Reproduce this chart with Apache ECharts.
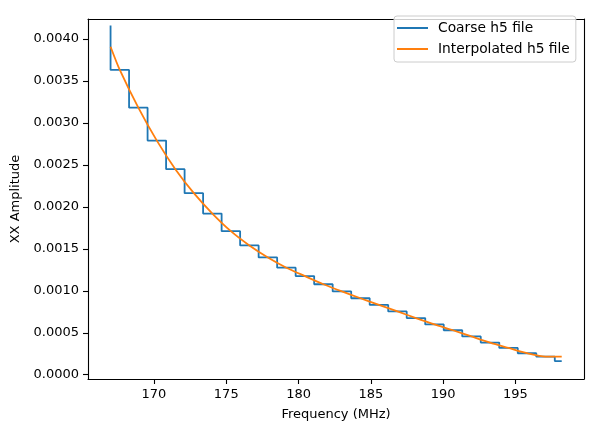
<!DOCTYPE html>
<html>
<head>
<meta charset="utf-8">
<script src="https://cdn.jsdelivr.net/npm/echarts@6/dist/echarts.min.js"></script>
<style>
  html, body { margin: 0; padding: 0; background: #fff; }
  #chart { width: 593px; height: 432px; }
</style>
</head>
<body>
<div id="chart"></div>
<script>
// Coarse h5 file: step line (vertical step at each x, then level until next x)
const coarseFreq = [167.00, 168.28, 169.56, 170.84, 172.12, 173.40, 174.68, 175.96, 177.24, 178.52,
                    179.80, 181.08, 182.36, 183.64, 184.92, 186.20, 187.48, 188.76, 190.04, 191.32,
                    192.60, 193.88, 195.16, 196.44, 197.72, 198.20];
const coarseAmp = [0.004160, 0.003631, 0.003182, 0.002789, 0.002449, 0.002163, 0.001920, 0.001710, 0.001540, 0.001397,
                   0.001275, 0.001175, 0.001078, 0.000992, 0.000911, 0.000831, 0.000754, 0.000675, 0.000599, 0.000530,
                   0.000456, 0.000383, 0.000319, 0.000256, 0.000215, 0.000162];

// Interpolated h5 file
const interpFreq = [167.00, 167.64, 168.92, 170.20, 171.48, 172.76, 174.04, 175.32, 176.60, 177.88,
                    179.16, 180.44, 181.72, 183.00, 184.28, 185.56, 186.84, 188.12, 189.40, 190.68,
                    191.96, 193.24, 194.52, 195.80, 197.08, 198.20];
const interpAmp = [0.003908, 0.003631, 0.003182, 0.002789, 0.002449, 0.002163, 0.001920, 0.001710, 0.001540, 0.001397,
                   0.001275, 0.001175, 0.001078, 0.000992, 0.000911, 0.000831, 0.000754, 0.000675, 0.000599, 0.000530,
                   0.000456, 0.000383, 0.000319, 0.000256, 0.000215, 0.000215];

const xTicks = [170, 175, 180, 185, 190, 195];
const yTicks = [0.0000, 0.0005, 0.0010, 0.0015, 0.0020, 0.0025, 0.0030, 0.0035, 0.0040];

const FONT = 'DejaVu Sans';
const X_MIN = 165.44, X_MAX = 199.74, Y_MIN = -0.000051, Y_MAX = 0.004238;
const coarseData = coarseFreq.map((f, i) => [f, coarseAmp[i]]);
const interpData = interpFreq.map((f, i) => [f, interpAmp[i]]);

const spine = { show: true, onZero: false, lineStyle: { color: '#000', width: 1.1 } };

const chart = echarts.init(document.getElementById('chart'), null, { renderer: 'canvas' });
chart.setOption({
  animation: false,
  backgroundColor: '#ffffff',
  textStyle: { fontFamily: FONT, color: '#000' },
  grid: { left: 88, right: 9, top: 19, bottom: 53 },
  legend: {
    left: 394, top: 16,
    orient: 'vertical',
    icon: 'rect',
    itemWidth: 31, itemHeight: 2, itemGap: 7,
    padding: [5, 6, 6, 3],
    borderColor: '#cccccc', borderWidth: 1, borderRadius: 3,
    backgroundColor: 'rgba(255,255,255,0.8)',
    textStyle: { fontFamily: FONT, fontSize: 13.8, lineHeight: 14, color: '#000', padding: [0, 0, 0, 5] },
    data: ['Coarse h5 file', 'Interpolated h5 file']
  },
  xAxis: [{
    type: 'value',
    min: X_MIN, max: X_MAX,
    name: 'Frequency (MHz)',
    nameLocation: 'middle',
    nameGap: 29,
    nameTextStyle: { fontFamily: FONT, fontSize: 13, color: '#000' },
    axisLine: spine,
    axisTick: { show: true, inside: false, length: 5, customValues: xTicks, lineStyle: { color: '#000', width: 1.1 } },
    axisLabel: { customValues: xTicks, margin: 9, fontFamily: FONT, fontSize: 13, color: '#000',
                 formatter: v => String(Math.round(v)) },
    splitLine: { show: false }
  }, {
    type: 'value', position: 'top',
    min: X_MIN, max: X_MAX,
    axisLine: spine, axisTick: { show: false }, axisLabel: { show: false }, splitLine: { show: false }
  }],
  yAxis: [{
    type: 'value',
    min: Y_MIN, max: Y_MAX,
    name: 'XX Amplitude',
    nameLocation: 'middle',
    nameGap: 64,
    nameTextStyle: { fontFamily: FONT, fontSize: 13, color: '#000' },
    axisLine: spine,
    axisTick: { show: true, inside: false, length: 5, customValues: yTicks, lineStyle: { color: '#000', width: 1.1 } },
    axisLabel: { customValues: yTicks, margin: 9, fontFamily: FONT, fontSize: 13, color: '#000',
                 formatter: v => Number(v).toFixed(4) },
    splitLine: { show: false }
  }, {
    type: 'value', position: 'right',
    min: Y_MIN, max: Y_MAX,
    axisLine: spine, axisTick: { show: false }, axisLabel: { show: false }, splitLine: { show: false }
  }],
  series: [
    {
      name: 'Coarse h5 file',
      type: 'line',
      step: 'start',
      data: coarseData,
      symbol: 'none',
      showSymbol: false,
      color: '#1f77b4',
      lineStyle: { color: '#1f77b4', width: 1.8 },
      z: 2
    },
    {
      name: 'Interpolated h5 file',
      type: 'line',
      data: interpData,
      smooth: 0.25,
      symbol: 'none',
      showSymbol: false,
      color: '#ff7f0e',
      lineStyle: { color: '#ff7f0e', width: 1.8 },
      z: 3
    }
  ]
});
</script>
</body>
</html>
